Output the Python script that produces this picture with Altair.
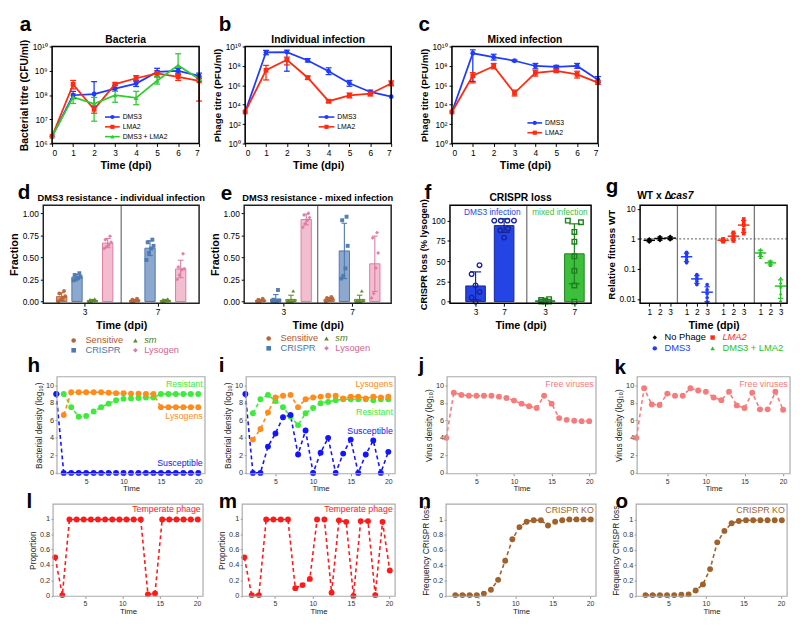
import altair as alt
import pandas as pd

FONT = "Liberation Sans"

# ===================== data =====================
days = [0, 1, 2, 3, 4, 5, 6, 7]

# a: bacterial titre (log10 CFU/ml)
a_dms3 = [6.30, 7.99, 8.04, 8.26, 8.47, 8.95, 8.99, 8.79]
a_dms3_lo = [6.30, 7.85, 7.55, 8.15, 8.35, 8.75, 8.90, 8.70]
a_dms3_hi = [6.30, 8.15, 8.55, 8.40, 8.60, 9.10, 9.10, 8.90]
a_lma2 = [6.30, 8.44, 7.41, 8.45, 8.69, 8.89, 8.75, 8.58]
a_lma2_lo = [6.30, 8.25, 7.25, 8.40, 8.55, 8.75, 8.60, 7.75]
a_lma2_hi = [6.30, 8.60, 7.55, 8.50, 8.80, 9.00, 8.85, 8.70]
a_mix = [6.30, 7.91, 7.64, 7.99, 7.88, 8.59, 9.22, 8.66]
a_mix_lo = [6.30, 7.65, 6.92, 7.70, 7.60, 8.45, 8.80, 8.55]
a_mix_hi = [6.30, 8.05, 7.90, 8.15, 8.15, 8.75, 9.70, 8.75]

# b: phage titre, individual infection (log10 PFU/ml)
b_dms3 = [3.25, 9.40, 9.42, 8.56, 7.45, 6.21, 5.31, 4.83]
b_dms3_lo = [3.25, 9.15, 7.45, 8.40, 7.10, 5.90, 5.10, 4.83]
b_dms3_hi = [3.25, 9.60, 9.62, 8.75, 7.80, 6.50, 5.50, 4.83]
b_lma2 = [3.25, 7.55, 8.63, 6.78, 4.36, 4.96, 5.13, 6.18]
b_lma2_lo = [3.25, 6.55, 8.10, 6.60, 4.20, 4.70, 4.90, 5.95]
b_lma2_hi = [3.25, 8.05, 8.90, 6.95, 4.50, 5.20, 5.40, 6.45]

# c: phage titre, mixed infection (log10 PFU/ml)
c_dms3 = [3.25, 9.30, 8.90, 8.53, 7.99, 7.89, 7.99, 6.58]
c_dms3_lo = [3.25, 6.40, 8.60, 8.45, 7.70, 7.75, 7.75, 6.30]
c_dms3_hi = [3.25, 9.65, 9.20, 8.60, 8.25, 8.05, 8.25, 6.90]
c_lma2 = [3.25, 6.98, 7.96, 5.20, 7.28, 7.48, 7.12, 6.28]
c_lma2_lo = [3.25, 6.25, 7.70, 4.90, 6.95, 7.35, 6.75, 6.10]
c_lma2_hi = [3.25, 7.30, 8.25, 5.50, 7.55, 7.60, 7.45, 6.45]

# d: DMS3 resistance - individual infection (fraction per replicate)
d3_sensitive = [0.00, 0.02, 0.04, 0.06, 0.09, 0.12]
d3_crispr = [0.24, 0.25, 0.27, 0.28, 0.30, 0.32]
d3_sm = [0.00, 0.00, 0.01, 0.01, 0.02, 0.03]
d3_lysogen = [0.60, 0.62, 0.64, 0.67, 0.70, 0.74]
d7_sensitive = [0.00, 0.00, 0.01, 0.01, 0.02, 0.03]
d7_crispr = [0.47, 0.55, 0.60, 0.63, 0.67, 0.70]
d7_sm = [0.00, 0.00, 0.01, 0.01, 0.02, 0.03]
d7_lysogen = [0.25, 0.30, 0.36, 0.37, 0.39, 0.54]

# e: DMS3 resistance - mixed infection
e3_sensitive = [0.00, 0.00, 0.01, 0.01, 0.02, 0.03]
e3_crispr = [0.00, 0.00, 0.00, 0.01, 0.02, 0.13]
e3_sm = [0.00, 0.00, 0.00, 0.01, 0.01, 0.12]
e3_lysogen = [0.84, 0.88, 0.92, 0.95, 0.98, 1.00]
e7_sensitive = [0.00, 0.01, 0.02, 0.03, 0.04, 0.05]
e7_crispr = [0.26, 0.29, 0.375, 0.63, 0.92, 0.96]
e7_sm = [0.00, 0.00, 0.00, 0.01, 0.01, 0.12]
e7_lysogen = [0.04, 0.09, 0.38, 0.55, 0.72, 0.78]

types = ["Sensitive", "CRISPR", "sm", "Lysogen"]
d_pos = [0.925, 1.975, 3.025, 4.075, 5.925, 6.975, 8.025, 9.075]
e_pos = [0.835, 1.945, 3.055, 4.165, 5.835, 6.945, 8.055, 9.165]
frac_jit = [-0.24, -0.08, 0.08, 0.24, -0.16, 0.16]
time_tick_pos = [2.5, 7.5]
time_tick_lab = ["3", "7"]

# f: CRISPR loss (% lysogen)
f_groups = ["DMS3 infection", "DMS3 infection", "mixed infection", "mixed infection"]
f_pos = [0.63, 1.50, 2.75, 3.64]
f_ticklab = ["3", "7", "3", "7"]
f_dms3_3 = [0, 5, 12, 20, 34, 45]
f_dms3_7 = [79, 88, 90, 100, 100, 100, 100]
f_mix_3 = [0, 0, 0, 1, 2, 3]
f_mix_7 = [0, 20, 38, 56, 74, 86, 100, 98]
f_jit_3 = [0, -0.12, 0.12, 0, -0.12, 0.12]
f_jit_7a = [0, -0.12, 0.12, -0.3, -0.1, 0.1, 0.3]
f_jit_7b = [0, 0, 0, 0, 0, 0, -0.2, 0.2]

# g: WT x delta cas7, relative fitness
g_groups = ["No Phage", "DMS3", "LMA2", "DMS3 + LMA2"]
g_pos = [0.24, 0.52, 0.79, 1.22, 1.49, 1.76, 2.18, 2.45, 2.72, 3.16, 3.42, 3.69]
g_ticklab = ["1", "2", "3", "1", "2", "3", "1", "2", "3", "1", "2", "3"]
g_div = [0.98, 1.99, 3.0]
g_nophage = [[0.78, 0.85, 0.90, 0.95, 1.00], [0.88, 0.95, 1.02, 1.10, 1.20], [0.92, 1.00, 1.05, 1.12, 1.22]]
g_dms3 = [[0.16, 0.20, 0.25, 0.30, 0.36], [0.030, 0.038, 0.045, 0.055, 0.065], [0.008, 0.011, 0.015, 0.020, 0.030]]
g_lma2 = [[0.80, 0.85, 0.90, 0.95, 1.00], [0.85, 1.00, 1.20, 1.45, 1.65], [1.50, 2.00, 2.80, 3.50, 4.60]]
g_mix = [[0.24, 0.30, 0.33, 0.38, 0.45], [0.13, 0.145, 0.16, 0.17, 0.19], [0.009, 0.015, 0.025, 0.035, 0.050]]

# h-o: simulations
sim_t = [1, 2, 3, 4, 5, 6, 7, 8, 9, 10, 11, 12, 13, 14, 15, 16, 17, 18, 19, 20]
sim_t2 = [2, 3, 4, 5, 6, 7, 8, 9, 10, 11, 12, 13, 14, 15, 16, 17, 18, 19, 20]
h_resistant = [9.0, 9.0, 7.5, 6.4, 6.5, 7.0, 7.5, 7.9, 8.3, 8.45, 8.5, 8.55, 8.6, 8.6, 9.0, 9.0, 9.0, 9.0, 9.0, 9.0]
h_lysogens = [6.6, 9.2, 9.2, 9.2, 9.2, 9.2, 9.15, 9.1, 9.1, 9.05, 9.05, 9.0, 9.0, 7.5, 7.5, 7.5, 7.5, 7.5, 7.5]
h_susceptible = [9.0, 0, 0, 0, 0, 0, 0, 0, 0, 0, 0, 0, 0, 0, 0, 0, 0, 0, 0, 0]
i_resistant = [6.8, 8.4, 8.9, 8.2, 7.5, 6.4, 5.45, 6.8, 7.4, 7.95, 8.1, 8.3, 8.4, 8.4, 8.4, 8.4, 8.3, 8.4, 8.4]
i_lysogens = [3.8, 5.0, 6.9, 8.6, 8.8, 8.9, 7.5, 8.4, 8.6, 8.7, 8.8, 8.8, 8.5, 8.7, 8.7, 8.5, 8.7, 8.6, 8.7]
i_susceptible = [9.0, 0, 0, 3.0, 4.5, 6.35, 6.6, 2.1, 4.85, 0, 2.3, 4.0, 0, 2.2, 3.8, 0, 2.1, 3.7, 0, 2.4]
j_free = [4.0, 9.15, 8.9, 8.8, 8.8, 8.8, 8.8, 8.7, 8.55, 8.25, 7.9, 7.6, 7.4, 8.8, 7.9, 6.25, 6.05, 5.95, 5.9, 5.9]
k_free = [4.0, 9.65, 7.8, 7.75, 9.05, 8.8, 8.8, 9.65, 9.4, 9.25, 8.6, 8.3, 9.25, 7.7, 7.4, 9.15, 7.25, 7.25, 9.25, 7.2]
sim_t21 = [1.0, 1.96, 2.91, 3.87, 4.82, 5.78, 6.73, 7.69, 8.64, 9.6, 10.55, 11.51, 12.46, 13.42, 14.37,
           15.33, 16.28, 17.24, 18.19, 19.15, 20.1]
sim_t21b = [1.96, 2.91, 3.87, 4.82, 5.78, 6.73, 7.69, 8.64, 9.6, 10.55, 11.51, 12.46, 13.42, 14.37,
            15.33, 16.28, 17.24, 18.19, 19.15, 20.1]
l_temperate = [0.5, 0.01, 0.99, 0.99, 0.99, 0.99, 0.99, 0.99, 0.99, 0.99, 0.99, 0.99, 0.99, 0.02, 0.03,
               0.99, 0.99, 0.99, 0.99, 0.99, 0.99]
m_temperate = [0.5, 0.01, 0.01, 0.99, 0.99, 0.99, 0.99, 0.10, 0.14, 0.22, 0.99, 0.99, 0.04, 0.98, 0.96,
               0.0, 0.97, 0.97, 0.01, 0.96, 0.33]
n_crispr_ko = [0.01, 0.01, 0.01, 0.01, 0.03, 0.08, 0.21, 0.46, 0.74, 0.90, 0.97, 0.99, 0.99, 0.92,
               0.97, 0.99, 1.0, 1.0, 1.0, 1.0]
o_crispr_ko = [0.01, 0.01, 0.01, 0.01, 0.01, 0.015, 0.02, 0.07, 0.15, 0.35, 0.70, 0.85, 0.95, 0.98, 0.99,
               0.99, 0.99, 0.99, 0.99, 0.99]

# ===================== styles / geometry =====================
W, H = 790, 612          # single view; page offset of the view is 8px
OFF = 8

SUP = {"0": "\u2070", "1": "\u00b9", "2": "\u00b2", "3": "\u00b3", "4": "\u2074",
       "5": "\u2075", "6": "\u2076", "7": "\u2077", "8": "\u2078", "9": "\u2079"}
SER_COL = {"DMS3": "#1f3bff", "LMA2": "#ff2a10", "DMS3 + LMA2": "#2ecc2e"}
SER_SHP = {"DMS3": "circle", "LMA2": "square", "DMS3 + LMA2": "triangle-up"}
T_DARK = {"Sensitive": "#b8643a", "CRISPR": "#4d78b0", "sm": "#5c8c25", "Lysogen": "#dd7aa2"}
T_FILL = {"Sensitive": "#d9946e", "CRISPR": "#7f9fca", "sm": "#93b860", "Lysogen": "#f2b6cb"}
T_LAB = {"Sensitive": "#b4582b", "CRISPR": "#4a74aa", "sm": "#4f7f1c", "Lysogen": "#d2668f"}
T_SHP = {"Sensitive": "circle", "CRISPR": "square", "sm": "triangle-up", "Lysogen": "diamond"}
G_COL = {"No Phage": "#000000", "LMA2": "#ff2a10", "DMS3": "#1f3bff", "DMS3 + LMA2": "#22c322"}
G_SHP = {"No Phage": "diamond", "LMA2": "square", "DMS3": "circle", "DMS3 + LMA2": "triangle-up"}
SIM_COL = {"Resistant": "#3bec3b", "Lysogens": "#ff8c1a", "Susceptible": "#1414ff",
           "Free viruses": "#f77b7b", "Temperate phage": "#ff1a1a", "CRISPR KO": "#a0622a"}

AXB = dict(domain=False, grid=False, ticks=True, tickColor="black", tickSize=3, tickWidth=1,
           labelFont=FONT, labelFontSize=8.5, labelColor="black", labelPadding=2,
           titleFont=FONT, titleFontSize=11, titleFontWeight="bold", titleColor="black", titlePadding=3)
AXS = dict(domain=False, grid=False, ticks=True, tickColor="#888888", tickSize=2, tickWidth=1,
           labelFont=FONT, labelFontSize=7, labelColor="#333333", labelPadding=1.5,
           titleFont=FONT, titleFontSize=8, titleFontWeight="normal", titleColor="#222222", titlePadding=1)
AXS_Y = {**AXS, "labelFontSize": 7.5, "titleFontSize": 8.5, "titlePadding": 2}

ONE = pd.DataFrame({"k": [0]})

# panel boxes in page pixels: (left, top, right, bottom)
BOX = {
    "a": (43, 41, 193, 140), "b": (240, 41, 389, 140), "c": (451, 41, 600, 140),
    "d": (34, 203, 193, 303), "e": (239, 203, 389, 303), "f": (449, 203, 593, 303), "g": (643, 203, 793, 303),
    "h": (48, 378, 199, 477), "i": (241, 378, 393, 477), "j": (446, 378, 598, 477), "k": (640, 378, 796, 477),
    "l": (44, 508, 197, 602), "m": (237, 508, 393, 602), "n": (445, 508, 598, 602), "o": (639, 508, 793, 602),
}


def vb(key):
    x0, y0, x1, y1 = BOX[key]
    return x0 - OFF, y0 - OFF, x1 - OFF, y1 - OFF


def make_scales(key, xdom, ydom, ylog=False):
    X0, Y0, X1, Y1 = vb(key)
    xs = alt.Scale(domain=xdom, range=[X0, X1], nice=False, zero=False)
    if ylog:
        ys = alt.Scale(type="log", domain=ydom, range=[Y1, Y0], nice=False)
    else:
        ys = alt.Scale(domain=ydom, range=[Y1, Y0], nice=False, zero=False)
    return xs, ys


def xaxis(key, **kw):
    X0, Y0, X1, Y1 = vb(key)
    return alt.Axis(orient="bottom", offset=Y1 - H, **kw)


def yaxis(key, **kw):
    X0, Y0, X1, Y1 = vb(key)
    return alt.Axis(orient="left", offset=-X0, **kw)


def txt(text, x, y, size=10.0, weight="normal", color="black", align="left", style="normal",
        baseline="alphabetic"):
    return alt.Chart(ONE).mark_text(
        text=text, font=FONT, fontSize=size, fontWeight=weight, color=color,
        align=align, baseline=baseline, fontStyle=style
    ).encode(x=alt.value(x), y=alt.value(y))


def letter(key, ch, dx, dy):
    X0, Y0, _, _ = vb(key)
    return txt(ch, X0 + dx, Y0 + dy, size=21, weight="bold")


def head(key, text, size=10.5, dy=-4):
    X0, Y0, X1, _ = vb(key)
    return txt(text, (X0 + X1) / 2, Y0 + dy, size=size, weight="bold", align="center")


def frame(key, color="black", width=1.6):
    X0, Y0, X1, Y1 = vb(key)
    return alt.Chart(ONE).mark_rect(fillOpacity=0, stroke=color, strokeWidth=width).encode(
        x=alt.value(X0), x2=alt.value(X1), y=alt.value(Y0), y2=alt.value(Y1))


def key_symbol(x, y, shape, color, size=22, line=None):
    out = []
    if line is not None:
        out.append(alt.Chart(ONE).mark_rule(color=color, strokeWidth=1.6).encode(
            x=alt.value(line[0]), x2=alt.value(line[1]), y=alt.value(y)))
    out.append(alt.Chart(ONE).mark_point(shape=shape, filled=True, color=color, size=size, opacity=1).encode(
        x=alt.value(x), y=alt.value(y)))
    return out


def key_label(x, y, text, color, size, style="normal"):
    return txt(text, x, y, size=size, color=color, style=style, baseline="middle")


def sup_expr(exps):
    expr = "''"
    for e in reversed(exps):
        s = "10" + "".join(SUP[c] for c in str(e))
        expr = f"datum.value === {e} ? '{s}' : ({expr})"
    return expr


def list_expr(pos, labels):
    expr = "''"
    for p, l in reversed(list(zip(pos, labels))):
        expr = f"abs(datum.value - {p}) < 0.01 ? '{l}' : ({expr})"
    return expr


def err_layers(src, xfield, xs, xax, ys, yax, strokeenc, cap, width=1.3):
    rule = src.mark_rule(strokeWidth=width).encode(
        x=alt.X(f"{xfield}:Q", scale=xs, axis=xax), y=alt.Y("lo:Q", scale=ys, axis=yax), y2="hi:Q",
        stroke=strokeenc)
    caps = src.transform_fold(["lo", "hi"], as_=["which", "yy"]).transform_calculate(
        xa=f"datum.{xfield} - {cap}", xb=f"datum.{xfield} + {cap}"
    ).mark_rule(strokeWidth=width).encode(
        x=alt.X("xa:Q", scale=xs, axis=xax), x2="xb:Q",
        y=alt.Y("yy:Q", scale=ys, axis=yax), stroke=strokeenc)
    return [rule, caps]


# ===================== panel builders =====================
def titre_panel(key, series, ydom, yexps, ytitle, ytsize, title, kpos, lx, ly):
    X0, Y0, X1, Y1 = vb(key)
    rows = []
    for name, v, lo, hi in series:
        for t, vv, l, hh in zip(days, v, lo, hi):
            rows.append({"t": t, "s": name, "v": vv, "lo": l, "hi": hh})
    df = pd.DataFrame(rows)
    names = [s[0] for s in series]
    cs = alt.Scale(domain=names, range=[SER_COL[n] for n in names])
    ss = alt.Scale(domain=names, range=[SER_SHP[n] for n in names])
    xs, ys = make_scales(key, [0, 7], ydom)
    xax = xaxis(key, values=days, title="Time (dpi)", **AXB)
    yax = yaxis(key, values=yexps, title=ytitle, labelExpr=sup_expr(yexps), **{**AXB, "titleFontSize": ytsize})
    X = alt.X("t:Q", scale=xs, axis=xax)
    st = alt.Stroke("s:N", scale=cs, legend=None)
    base = alt.Chart(df)
    line = base.mark_line(strokeWidth=1.8).encode(x=X, y=alt.Y("v:Q", scale=ys, axis=yax), stroke=st)
    errs = err_layers(base.transform_filter("datum.hi > datum.lo"), "t", xs, xax, ys, yax, st, 0.14)
    pts = base.mark_point(filled=True, size=24, opacity=1).encode(
        x=X, y=alt.Y("v:Q", scale=ys, axis=yax),
        color=alt.Color("s:N", scale=cs, legend=None), shape=alt.Shape("s:N", scale=ss, legend=None))
    kx0, kx1, ktx, ky0 = kpos
    keys = []
    for i, n in enumerate(names):
        yy = Y0 + ky0 + 10 * i
        keys += key_symbol(X0 + (kx0 + kx1) / 2, yy, SER_SHP[n], SER_COL[n], size=18,
                           line=(X0 + kx0, X0 + kx1))
        keys.append(key_label(X0 + ktx, yy, n, "black", 7))
    return alt.layer(line, *errs, pts, *keys, head(key, title), letter(key, key, lx, ly),
                     frame(key))


def frac_panel(key, groups, pos, title, kpos, lx, ly):
    X0, Y0, X1, Y1 = vb(key)
    rows = []
    for gi, (tm, ty, vals) in enumerate(groups):
        for v, j in zip(vals, frac_jit):
            rows.append({"time": tm, "type": ty, "pos": pos[gi], "jit": j, "v": v})
    df = pd.DataFrame(rows)
    xs, ys = make_scales(key, [0, 10], [-0.02, 1.09])
    xax = xaxis(key, values=time_tick_pos, labelExpr=list_expr(time_tick_pos, time_tick_lab),
                title="Time (dpi)", **AXB)
    yax = yaxis(key, values=[0, 0.25, 0.5, 0.75, 1.0], format=".2f", title="Fraction", **AXB)
    dark = alt.Scale(domain=types, range=[T_DARK[t] for t in types])
    light = alt.Scale(domain=types, range=[T_FILL[t] for t in types])
    shp = alt.Scale(domain=types, range=[T_SHP[t] for t in types])
    X = alt.X("pos:Q", scale=xs, axis=xax)
    st = alt.Stroke("type:N", scale=dark, legend=None)
    base = alt.Chart(df)
    div = alt.Chart(ONE).mark_rule(color="#777777", strokeWidth=1.3).encode(
        x=alt.X(datum=5, scale=xs, axis=xax), y=alt.value(Y0), y2=alt.value(Y1))
    bars = base.mark_bar(size=10.5, strokeWidth=1, fillOpacity=0.9).encode(
        x=X, y=alt.Y("mean(v):Q", scale=ys, axis=yax),
        fill=alt.Fill("type:N", scale=light, legend=None), stroke=st)
    agg = base.transform_aggregate(m="mean(v)", s="stdev(v)", groupby=["pos", "type"]).transform_calculate(
        lo="max(datum.m - datum.s, -0.02)", hi="datum.m + datum.s")
    errs = err_layers(agg, "pos", xs, xax, ys, yax, st, 0.2, width=1.1)
    pts = base.transform_calculate(px="datum.pos + datum.jit").mark_point(
        filled=True, size=16, opacity=0.95).encode(
        x=alt.X("px:Q", scale=xs, axis=xax), y=alt.Y("v:Q", scale=ys, axis=yax),
        color=alt.Color("type:N", scale=dark, legend=None),
        shape=alt.Shape("type:N", scale=shp, legend=None))
    c1s, c1t, c2s, c2t, r1, r2 = kpos
    grid_keys = [("Sensitive", c1s, c1t, r1), ("sm", c2s, c2t, r1),
                 ("CRISPR", c1s, c1t, r2), ("Lysogen", c2s, c2t, r2)]
    keys = []
    for n, sx, tx, yy in grid_keys:
        keys += key_symbol(X0 + sx, Y0 + yy, T_SHP[n], T_DARK[n], size=22)
        keys.append(key_label(X0 + tx, Y0 + yy, n, T_LAB[n], 9.5, "italic" if n == "sm" else "normal"))
    return alt.layer(div, bars, *errs, pts, *keys, head(key, title, 9.5), letter(key, key, lx, ly),
                     frame(key, "#222222", 1.5))


def panel_f():
    key = "f"
    X0, Y0, X1, Y1 = vb(key)
    sets = [f_dms3_3, f_dms3_7, f_mix_3, f_mix_7]
    jits = [f_jit_3, f_jit_7a, f_jit_3, f_jit_7b]
    rows = []
    for gi, vals in enumerate(sets):
        for v, j in zip(vals, jits[gi]):
            rows.append({"g": f_groups[gi], "pos": f_pos[gi], "jit": j, "v": v})
    df = pd.DataFrame(rows)
    xs, ys = make_scales(key, [0, 4], [-2, 119])
    xax = xaxis(key, values=f_pos, labelExpr=list_expr(f_pos, f_ticklab), title="Time (dpi)", **AXB)
    yax = yaxis(key, values=[0, 25, 50, 75, 100], title="CRISPR loss (% lysogen)",
                **{**AXB, "titleFontSize": 9.5})
    gd = ["DMS3 infection", "mixed infection"]
    fill = alt.Scale(domain=gd, range=["#2444e6", "#3cc03c"])
    dark = alt.Scale(domain=gd, range=["#16249a", "#1f7f1f"])
    shp = alt.Scale(domain=gd, range=["circle", "square"])
    X = alt.X("pos:Q", scale=xs, axis=xax)
    st = alt.Stroke("g:N", scale=dark, legend=None)
    base = alt.Chart(df)
    div = alt.Chart(ONE).mark_rule(color="#777777", strokeWidth=1.3).encode(
        x=alt.X(datum=2.19, scale=xs, axis=xax), y=alt.value(Y0), y2=alt.value(Y1))
    bars = base.mark_bar(size=20, strokeWidth=1).encode(
        x=X, y=alt.Y("mean(v):Q", scale=ys, axis=yax),
        fill=alt.Fill("g:N", scale=fill, legend=None), stroke=st)
    agg = base.transform_aggregate(m="mean(v)", s="stdev(v)", groupby=["pos", "g"]).transform_calculate(
        lo="max(datum.m - datum.s, -2)", hi="datum.m + datum.s")
    errs = err_layers(agg, "pos", xs, xax, ys, yax, st, 0.17, width=1.2)
    pts = base.transform_calculate(px="datum.pos + datum.jit").mark_point(
        filled=False, size=22, strokeWidth=1.4, opacity=1).encode(
        x=alt.X("px:Q", scale=xs, axis=xax), y=alt.Y("v:Q", scale=ys, axis=yax),
        stroke=st, shape=alt.Shape("g:N", scale=shp, legend=None))
    notes = pd.DataFrame({"label": gd, "x": [1.14, 3.2], "y": [110, 110]})
    nt = alt.Chart(notes).mark_text(font=FONT, fontSize=8.5, baseline="middle").encode(
        x=alt.X("x:Q", scale=xs, axis=xax), y=alt.Y("y:Q", scale=ys, axis=yax), text="label:N",
        fill=alt.Fill("label:N", scale=alt.Scale(domain=gd, range=["#2040ff", "#33cc33"]), legend=None))
    return alt.layer(div, bars, *errs, pts, nt, head(key, "CRISPR loss"), letter(key, "f", -26, -6),
                     frame(key, "black", 1.5))


def panel_g():
    key = "g"
    X0, Y0, X1, Y1 = vb(key)
    sets = [g_nophage, g_dms3, g_lma2, g_mix]
    rows = []
    for gi, grp in enumerate(sets):
        for di, vals in enumerate(grp):
            for v in vals:
                rows.append({"g": g_groups[gi], "pos": g_pos[gi * 3 + di], "v": v})
    df = pd.DataFrame(rows)
    xs, ys = make_scales(key, [0, 3.86], [0.0072, 13.2], ylog=True)
    xax = xaxis(key, values=g_pos, labelExpr=list_expr(g_pos, g_ticklab), title="Time (dpi)", **AXB)
    yax = yaxis(key, values=[0.01, 0.1, 1, 10], format="~g", title="Relative fitness WT",
                **{**AXB, "titleFontSize": 10})
    cs = alt.Scale(domain=g_groups, range=[G_COL[o] for o in g_groups])
    ss = alt.Scale(domain=g_groups, range=[G_SHP[o] for o in g_groups])
    X = alt.X("pos:Q", scale=xs, axis=xax)
    st = alt.Stroke("g:N", scale=cs, legend=None)
    base = alt.Chart(df)
    divdf = pd.DataFrame({"x": g_div})
    div = alt.Chart(divdf).mark_rule(color="#777777", strokeWidth=1.3).encode(
        x=alt.X("x:Q", scale=xs, axis=xax), y=alt.value(Y0), y2=alt.value(Y1))
    one_line = alt.Chart(ONE).mark_rule(color="#555555", strokeWidth=1, strokeDash=[2, 2]).encode(
        y=alt.Y(datum=1, scale=ys, axis=yax), x=alt.value(X0), x2=alt.value(X1))
    agg = base.transform_aggregate(m="mean(v)", s="stdev(v)", groupby=["pos", "g"]).transform_calculate(
        lo="datum.m - datum.s", hi="datum.m + datum.s")
    errs = err_layers(agg, "pos", xs, xax, ys, yax, st, 0.07, width=1.2)
    mean = agg.transform_calculate(xa="datum.pos - 0.15", xb="datum.pos + 0.15").mark_rule(
        strokeWidth=1.5).encode(
        x=alt.X("xa:Q", scale=xs, axis=xax), x2="xb:Q", y=alt.Y("m:Q", scale=ys, axis=yax), stroke=st)
    pts = base.mark_point(filled=True, size=14, opacity=1).encode(
        x=X, y=alt.Y("v:Q", scale=ys, axis=yax),
        color=alt.Color("g:N", scale=cs, legend=None), shape=alt.Shape("g:N", scale=ss, legend=None))
    grid_keys = [("No Phage", 15, 25, 135), ("LMA2", 74, 84, 135),
                 ("DMS3", 15, 25, 146), ("DMS3 + LMA2", 74, 84, 146)]
    keys = []
    for n, sx, tx, yy in grid_keys:
        keys += key_symbol(X0 + sx, Y0 + yy, G_SHP[n], G_COL[n], size=20)
        keys.append(key_label(X0 + tx, Y0 + yy, n, G_COL[n], 9.5, "italic" if n == "LMA2" else "normal"))
    t1 = txt("WT x \u0394", X0 - 3, Y0 - 6, size=10.5, weight="bold")
    t2 = txt("cas7", X0 + 31, Y0 - 6, size=10.5, weight="bold", style="italic")
    return alt.layer(div, one_line, *errs, mean, pts, *keys, t1, t2, letter(key, "g", -35, -13),
                     frame(key, "black", 1.5))


def sim_panel(key, series, ydom, yvals, yfmt, ytitle, xdom, notes, lx, ly):
    rows = []
    for name, ts, vs in series:
        for t, v in zip(ts, vs):
            rows.append({"t": t, "v": v, "s": name})
    df = pd.DataFrame(rows)
    names = [s[0] for s in series]
    cs = alt.Scale(domain=names, range=[SIM_COL[n] for n in names])
    xs, ys = make_scales(key, xdom, ydom)
    xax = xaxis(key, values=[5, 10, 15, 20], title="Time", **AXS)
    yax = yaxis(key, values=yvals, format=yfmt, title=ytitle, **AXS_Y)
    base = alt.Chart(df)
    line = base.mark_line(strokeDash=[4, 3], strokeWidth=1.6).encode(
        x=alt.X("t:Q", scale=xs, axis=xax), y=alt.Y("v:Q", scale=ys, axis=yax),
        color=alt.Color("s:N", scale=cs, legend=None))
    pts = base.mark_circle(size=36, opacity=1).encode(
        x=alt.X("t:Q", scale=xs, axis=xax), y=alt.Y("v:Q", scale=ys, axis=yax),
        color=alt.Color("s:N", scale=cs, legend=None))
    ndf = pd.DataFrame(notes)
    nt = alt.Chart(ndf).mark_text(font=FONT, fontSize=9, align="right", baseline="middle").encode(
        x=alt.X("x:Q", scale=xs, axis=xax), y=alt.Y("y:Q", scale=ys, axis=yax), text="label:N",
        color=alt.Color("label:N", scale=cs, legend=None))
    return alt.layer(line, pts, nt, letter(key, key, lx, ly), frame(key, "#aaaaaa", 1.2))


# ===================== panels =====================
pa = titre_panel(
    "a", [("DMS3", a_dms3, a_dms3_lo, a_dms3_hi), ("LMA2", a_lma2, a_lma2_lo, a_lma2_hi),
          ("DMS3 + LMA2", a_mix, a_mix_lo, a_mix_hi)],
    [6, 10], [6, 7, 8, 9, 10], "Bacterial titre (CFU/ml)", 10.5, "Bacteria", (54, 69, 72, 72), -33, -16)
pb = titre_panel(
    "b", [("DMS3", b_dms3, b_dms3_lo, b_dms3_hi), ("LMA2", b_lma2, b_lma2_lo, b_lma2_hi)],
    [0, 10], [0, 2, 4, 6, 8, 10], "Phage titre (PFU/ml)", 10, "Individual infection", (75, 91, 94, 72), -27, -16)
pc = titre_panel(
    "c", [("DMS3", c_dms3, c_dms3_lo, c_dms3_hi), ("LMA2", c_lma2, c_lma2_lo, c_lma2_hi)],
    [0, 10], [0, 2, 4, 6, 8, 10], "Phage titre (PFU/ml)", 10, "Mixed infection", (77, 92, 95, 78), -34, -16)

pd_ = frac_panel(
    "d", [("3", "Sensitive", d3_sensitive), ("3", "CRISPR", d3_crispr), ("3", "sm", d3_sm),
          ("3", "Lysogen", d3_lysogen), ("7", "Sensitive", d7_sensitive), ("7", "CRISPR", d7_crispr),
          ("7", "sm", d7_sm), ("7", "Lysogen", d7_lysogen)],
    d_pos, "DMS3 resistance - individual infection", (31, 43, 94, 103, 138, 148), -26, -6)
pe = frac_panel(
    "e", [("3", "Sensitive", e3_sensitive), ("3", "CRISPR", e3_crispr), ("3", "sm", e3_sm),
          ("3", "Lysogen", e3_lysogen), ("7", "Sensitive", e7_sensitive), ("7", "CRISPR", e7_crispr),
          ("7", "sm", e7_sm), ("7", "Lysogen", e7_lysogen)],
    e_pos, "DMS3 resistance - mixed infection", (25, 37, 84, 93, 136, 146), -24, -5)
pf = panel_f()
pg = panel_g()

BD = "Bacterial density (log\u2081\u2080)"
VD = "Virus density (log\u2081\u2080)"
ph = sim_panel(
    "h", [("Resistant", sim_t, h_resistant), ("Lysogens", sim_t2, h_lysogens), ("Susceptible", sim_t, h_susceptible)],
    [-0.1, 10.97], [0, 2, 4, 6, 8, 10], "d", BD, [1.1, 20.9],
    {"label": ["Resistant", "Lysogens", "Susceptible"], "x": [20.6, 20.6, 20.6], "y": [10.1, 6.5, 1.1]}, -30, -5)
pi = sim_panel(
    "i", [("Resistant", sim_t2, i_resistant), ("Lysogens", sim_t2, i_lysogens), ("Susceptible", sim_t, i_susceptible)],
    [-0.1, 10.97], [0, 2, 4, 6, 8, 10], "d", BD, [1.1, 20.9],
    {"label": ["Lysogens", "Resistant", "Susceptible"], "x": [20.6, 20.6, 20.6], "y": [10.1, 6.9, 4.8]}, -28, -5)
pj = sim_panel(
    "j", [("Free viruses", sim_t, j_free)], [-0.1, 10.97], [0, 2, 4, 6, 8, 10], "d", VD, [1.1, 20.9],
    {"label": ["Free viruses"], "x": [20.6], "y": [10.1]}, -29, -5)
pk = sim_panel(
    "k", [("Free viruses", sim_t, k_free)], [-0.1, 10.97], [0, 2, 4, 6, 8, 10], "d", VD, [1.1, 20.9],
    {"label": ["Free viruses"], "x": [20.6], "y": [10.1]}, -23, -3)
pl = sim_panel(
    "l", [("Temperate phage", sim_t21, l_temperate)], [-0.005, 1.19], [0, 0.2, 0.4, 0.6, 0.8, 1.0], "~g",
    "Proportion", [0.72, 20.8], {"label": ["Temperate phage"], "x": [20.5], "y": [1.12]}, -27, 4)
pm = sim_panel(
    "m", [("Temperate phage", sim_t21, m_temperate)], [-0.005, 1.19], [0, 0.2, 0.4, 0.6, 0.8, 1.0], "~g",
    "Proportion", [0.72, 20.8], {"label": ["Temperate phage"], "x": [20.5], "y": [1.12]}, -24, 4)
pn = sim_panel(
    "n", [("CRISPR KO", sim_t21b, n_crispr_ko)], [-0.005, 1.2], [0, 0.2, 0.4, 0.6, 0.8, 1.0], "~g",
    "Frequency CRISPR loss", [0.72, 20.8], {"label": ["CRISPR KO"], "x": [20.5], "y": [1.12]}, -28, 4)
po = sim_panel(
    "o", [("CRISPR KO", sim_t21b, o_crispr_ko)], [-0.005, 1.2], [0, 0.2, 0.4, 0.6, 0.8, 1.0], "~g",
    "Frequency CRISPR loss", [0.72, 20.8], {"label": ["CRISPR KO"], "x": [20.5], "y": [1.12]}, -21, 4)

chart = alt.layer(
    pa, pb, pc, pd_, pe, pf, pg, ph, pi, pj, pk, pl, pm, pn, po
).resolve_scale(
    x="independent", y="independent", color="independent", fill="independent",
    stroke="independent", shape="independent"
).resolve_axis(
    x="independent", y="independent"
).properties(width=W, height=H, padding=0).configure(font=FONT).configure_view(strokeOpacity=0)

chart.save("out.html", embed_options={"renderer": "svg", "actions": False})
